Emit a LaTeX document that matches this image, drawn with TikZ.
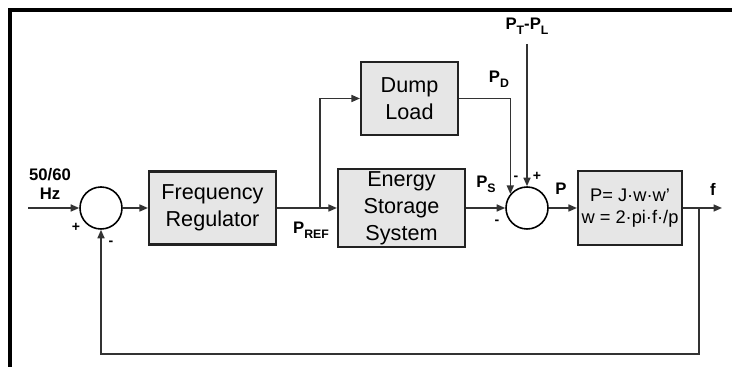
\documentclass[tikz,border=0pt]{standalone}
\usepackage{fontspec}
\setmainfont{Liberation Sans}
\setsansfont{Liberation Sans}
\usetikzlibrary{positioning, arrows.meta, calc}
\definecolor{lineGray}{HTML}{333333}
\definecolor{boxFill}{HTML}{E6E6E6}
\definecolor{boxEdge}{HTML}{222222}
\newcommand{\psub}[1]{\raisebox{-0.55ex}{\fontsize{7}{8}\selectfont #1}}
\tikzset{
  every node/.style={font=\sffamily},
  arr/.style={-{Triangle[length=1.7mm, width=1.4mm]}, line width=0.9pt, draw=lineGray},
  blk/.style={draw=boxEdge, fill=boxFill, line width=1.2pt, minimum height=1.46cm,
              inner sep=0pt, align=center, font=\fontsize{12.3}{15.4}\selectfont},
  sumc/.style={draw=black, circle, minimum size=0.84cm, inner sep=0pt, line width=0.9pt, fill=white},
  sig/.style={font=\bfseries\fontsize{9.5}{11.3}\selectfont, inner sep=1pt, align=center},
  sgn/.style={font=\bfseries\fontsize{8}{9}\selectfont, inner sep=0pt},
}
\begin{document}
\begin{tikzpicture}
  \useasboundingbox (0,0) rectangle (14.64,7.34);
  % --- frame ---
  \draw[line width=2.3pt] (0.2,0) -- (0.2,7.14) -- (14.64,7.14);
  % --- blocks ---
  \node[sumc] (sumA) at (2.02,3.18) {};
  \node[blk, minimum width=2.54cm] (freg) at (4.25,3.18) {Frequency\\Regulator};
  \node[blk, minimum width=2.54cm, minimum height=1.56cm] (ess) at (8.03,3.18) {Energy\\Storage\\System};
  \node[blk, minimum width=1.94cm] (dump) at (8.19,5.37) {Dump\\Load};
  \node[sumc] (sumB) at (10.54,3.18) {};
  \node[blk, minimum width=2.08cm, minimum height=1.48cm, font=\fontsize{10.4}{12.2}\selectfont]
    (plant) at (12.60,3.18) {P= J·w·w’\\w = 2·pi·f·/p};
  % free ends and branch points
  \coordinate (in) at (0.56,3.18);
  \coordinate (split) at (6.40,3.18);
  \coordinate (ptpl) at (10.54,6.46);
  \coordinate (tap) at (13.98,3.18);
  \coordinate (fbk) at (13.98,0.26);
  \coordinate (out) at (14.44,3.18);
  % --- connectors ---
  \draw[arr] (in) -- (sumA.west);
  \draw[arr] (sumA.east) -- (freg.west);
  \draw[arr] (freg.east) -- (ess.west);
  \draw[arr] (split) |- (dump.west);
  \draw[arr] (dump.east) -| (sumB.140);
  \draw[arr] (ptpl) -- (sumB.north);
  \draw[arr] (ess.east) -- (sumB.west);
  \draw[arr] (sumB.east) -- (plant.west);
  \draw[arr] (plant.east) -- (out);
  \draw[arr] (tap) -- (fbk) -| (sumA.south);
  % --- signal labels ---
  \node[sig] (hz) at (1.00,3.66) {50/60\\Hz};
  \node[sig] (pref) at (6.22,2.74) {P\psub{REF}};
  \node[sig] (pd) at (9.98,5.76) {P\psub{D}};
  \node[sig] (ptl) at (10.54,6.82) {P\psub{T}-P\psub{L}};
  \node[sig] (ps) at (9.72,3.66) {P\psub{S}};
  \node[sig] (pl) at (11.22,3.56) {P};
  \node[sig] (fl) at (14.26,3.56) {f};
  % --- signs at the summers ---
  \node[sgn] (sA1) at (1.52,2.80) {+};
  \node[sgn] (sA2) at (2.22,2.48) {-};
  \node[sgn] (sB1) at (10.32,3.78) {-};
  \node[sgn] (sB2) at (10.74,3.82) {+};
  \node[sgn] (sB3) at (9.94,2.90) {-};
\end{tikzpicture}
\end{document}
